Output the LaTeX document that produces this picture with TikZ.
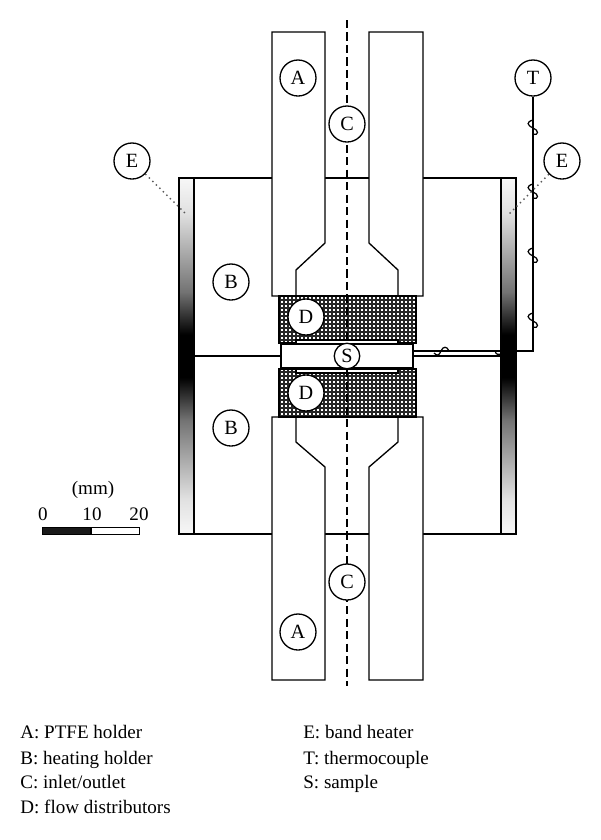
\documentclass[tikz,border=0pt]{standalone}
\usepackage{fontspec}
\setmainfont{Liberation Serif}
\usetikzlibrary{positioning}
\tikzstyle{mark circle}=[circle,fill=white,draw,line width=0.75pt,minimum size=20.5pt,inner sep=0pt,font=\fontsize{11.5}{13}\selectfont]
\tikzstyle{small circle}=[mark circle,minimum size=14.5pt]
\tikzstyle{part} = [draw,line width=0.75pt,line join=miter]
\tikzstyle{leader} = [draw,line width=0.8pt,dotted,gray!70!black]
\tikzstyle{wire} = [draw,line width=0.7pt]
\tikzstyle{legend} = [anchor=base west,inner sep=0pt,font=\fontsize{10.85}{13}\selectfont]
\pgfdeclareverticalshading{bandshade}{100bp}{color(0bp)=(white!97!black); color(25bp)=(white!97!black); color(30bp)=(white!88!black); color(41bp)=(black!55); color(47bp)=(black); color(53bp)=(black); color(59bp)=(black!55); color(70bp)=(white!88!black); color(75bp)=(white!97!black); color(100bp)=(white!97!black)}

\begin{document}
\begin{tikzpicture}[x=0.02cm,y=-0.02cm]
    \useasboundingbox (0,0) rectangle (600,840);

    % heating holders
    \path[part] (194,178) rectangle (501,534);
    \path[part] (194,356) -- (281,356);
    \path[part] (413,356) -- (501,356);

    % PTFE holders
    \path[part,fill=white] (272,296) -- (272,32) -- (325,32) -- (325,243) -- (296,270) -- (296,296) -- cycle;
    \path[part,fill=white] (423,296) -- (423,32) -- (369,32) -- (369,243) -- (398,270) -- (398,296) -- cycle;
    \path[part,fill=white] (272,417) -- (272,680) -- (325,680) -- (325,467) -- (296,442) -- (296,417) -- cycle;
    \path[part,fill=white] (423,417) -- (423,680) -- (369,680) -- (369,467) -- (398,442) -- (398,417) -- cycle;

    % flow distributors
    \foreach \ytop/\ybot in {296/343, 369/417} {
        \path[fill=white] (279,\ytop) rectangle (416,\ybot);
        \draw[line width=0.95pt,black!85,xstep=0.08cm,ystep=0.08cm] (279,\ytop) grid (416,\ybot);
        \path[part] (279,\ytop) rectangle (416,\ybot);
    }
    \path[part,fill=white] (296,340) rectangle (398,344);
    \path[part,fill=white] (296,369) rectangle (398,373);

    % sample
    \path[part,fill=white] (281,344) rectangle (413,368);

    % axis
    \draw[line width=0.8pt,dash pattern=on 4.6pt off 2.5pt] (347,20) -- (347,686);

    % labels
    \foreach \pos/\name/\txt in {{(298,78)/atop/A}, {(347,124)/ctop/C}, {(132,161)/eleft/E}, {(533,78)/tc/T}, {(562,161)/eright/E}, {(231,282)/btop/B}, {(231,428)/bbot/B}, {(306,317)/dtop/D}, {(306,393)/dbot/D}, {(347,582)/cbot/C}, {(298,632)/abot/A}}
        \node[mark circle] (\name) at \pos {\txt};
    \node[small circle] (samp) at (347,356) {S};

    % thermocouple
    \coordinate (tccorner) at (533,351);
    \coordinate (tcend) at (413,351);
    \path[wire] (tc) -- (tccorner) -- (tcend);
    \foreach \sy in {120,184,248,313}
        \path[wire] (533,\sy) .. controls (526,\sy+2) and (527,\sy+5) .. (533,\sy+8) .. controls (539,\sy+10) and (539,\sy+16) .. (533,\sy+14);
    \path[wire] (434,353) .. controls (437,356) and (439,356) .. (441,351) .. controls (443,346) and (447,346) .. (449,351);
    \path[wire] (495,351) .. controls (496,355) and (499,355) .. (501,354);

    % band heaters
    \path[part,shading=bandshade] (179,178) rectangle (194,534);
    \path[part,shading=bandshade] (501,178) rectangle (516,534);

    % leaders
    \coordinate (eleftend) at (185,213);
    \coordinate (erightend) at (508,215);
    \path[leader] (eleft) -- (eleftend);
    \path[leader] (eright) -- (erightend);

    % scale bar
    \node[rectangle,draw,line width=0.7pt,fill=black!90,minimum width=27.2pt,minimum height=4pt,inner sep=0pt,anchor=north west] (barblack) at (42,527) {};
    \node[rectangle,draw,line width=0.7pt,fill=white,minimum width=27.2pt,minimum height=4pt,inner sep=0pt,right=0pt of barblack] (barwhite) {};
    \node[legend,anchor=center] (mm) at (93,490) {(mm)};
    \node[legend,anchor=center] (zero) at (43,514) {0};
    \node[legend,anchor=center] (ten) at (92,514) {10};
    \node[legend,anchor=center] (twenty) at (139,514) {20};

    % legend
    \foreach \ypos/\name/\txt in {738/la/A: PTFE holder, 764/lb/B: heating holder, 788/lc/C: inlet\slash outlet, 813/ld/D: flow distributors}
        \node[legend] (\name) at (20,\ypos) {\txt};
    \foreach \ypos/\name/\txt in {738/le/E: band heater, 764/lt/T: thermocouple, 788/ls/S: sample}
        \node[legend] (\name) at (303,\ypos) {\txt};
\end{tikzpicture}
\end{document}
